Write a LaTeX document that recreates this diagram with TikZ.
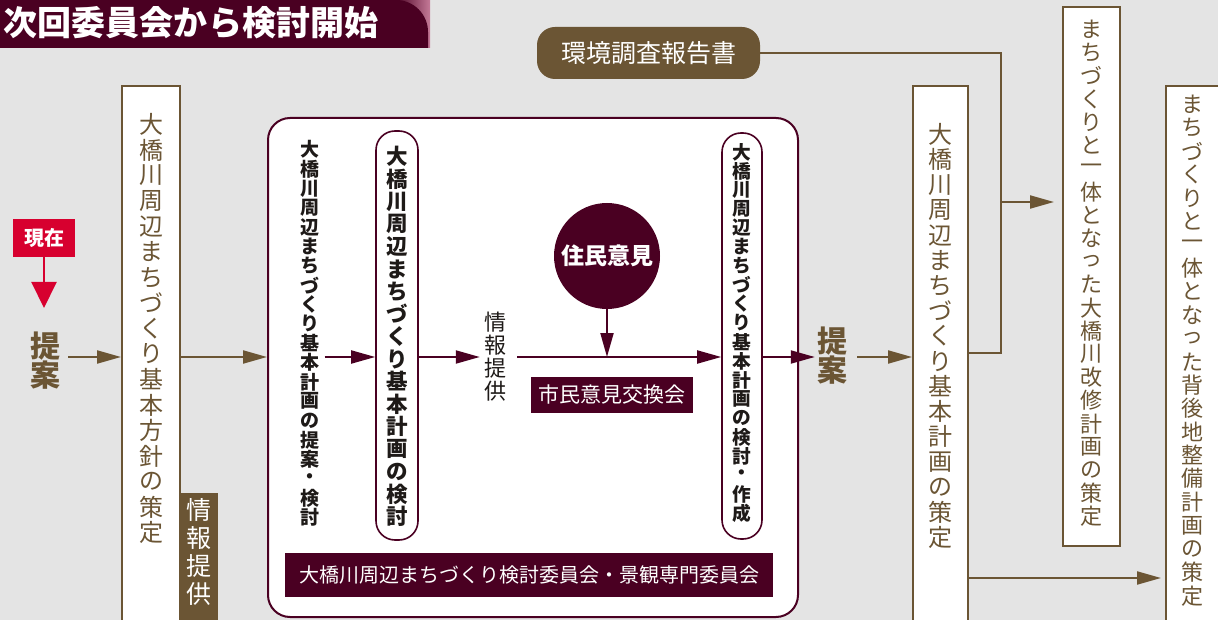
\documentclass[tikz,border=0pt]{standalone}
\usepackage{fontspec}
\setmainfont{Noto Sans CJK JP}
\usetikzlibrary{arrows.meta}
\definecolor{bgc}{HTML}{E4E4E4}
\definecolor{brn}{HTML}{6B5534}
\definecolor{mar}{HTML}{4A0022}
\definecolor{redc}{HTML}{D7002F}
\definecolor{pinkc}{HTML}{C57A98}
\definecolor{ink}{HTML}{1E1A18}
\makeatletter
\newcommand\vtxt[2]{\vbox{\offinterlineskip\@tfor\vt@c:=#2\do{\hbox to 1em{\hss\vbox to #1{\vss\hbox{\vt@c}\vss}\hss}}}}
\makeatother
\newcommand\fs[1]{\fontsize{#1pt}{#1pt}\selectfont}
\begin{document}
\begin{tikzpicture}[x=1pt,y=-1pt,
  wbox/.style={draw=brn,line width=2pt,fill=white,inner sep=0},
  btxt/.style={inner sep=0,text=brn},
  ktxt/.style={inner sep=0,text=ink},
  wtxt/.style={inner sep=0,text=white},
  pill/.style={draw=mar,line width=1.6pt,fill=white,rounded corners=19pt,inner sep=0},
  mbox/.style={fill=mar,text=white,inner sep=0},
  teian/.style={inner sep=0,text=brn,font=\bfseries\fs{30}},
  barrow/.style={draw=brn,line width=2pt,-{Triangle[length=24pt,width=13pt]}},
  marrow/.style={draw=mar,line width=2pt,-{Triangle[length=24pt,width=13pt]}},
  bline/.style={draw=brn,line width=2pt}]
\clip (0,0) rectangle (1218,620);
\fill[bgc] (0,0) rectangle (1218,620);
% title
\shade[left color=mar,right color=pinkc] (395,0) rectangle (430,48);
\fill[mar] (0,48) -- (0,0) [rounded corners=32pt] -- (428,0) [sharp corners] -- (428,48) -- cycle;
\node[wtxt,font=\bfseries\fs{34}] (title) at (191,23) {次回委員会から検討開始};
% now
\node[fill=redc,text=white,inner sep=0,minimum width=62pt,minimum height=38pt,font=\bfseries\fs{20}] (now) at (44,238) {現在};
\coordinate (nowtip) at (44,308);
\draw[draw=redc,line width=2pt,-{Triangle[length=26pt,width=25pt]}] (now) -- (nowtip);
% left proposal
\node[teian] (t1) at (45,361) {\vtxt{29pt}{提案}};
% box1
\node[wbox,minimum width=58pt,minimum height=600pt,anchor=north] (b1) at (151,85) {};
\node[btxt,font=\fs{24}] (b1t) at (151,328.5) {\vtxt{25.5pt}{大橋川周辺まちづくり基本方針の策定}};
\node[fill=brn,inner sep=0,minimum width=39pt,minimum height=150pt,anchor=north] (info1) at (198.5,493) {};
\node[wtxt,font=\fs{25},anchor=north] (info1t) at (198.5,496) {\vtxt{28pt}{情報提供}};
% big box
\node[draw=mar,line width=2pt,fill=white,rounded corners=22pt,inner sep=0,minimum width=530pt,minimum height=499pt] (big) at (533,367.5) {};
\node[ktxt,font=\bfseries\fs{19}] (c1) at (310,333.5) {\vtxt{19.35pt}{大橋川周辺まちづくり基本計画の提案・検討}};
\node[pill,minimum width=42pt,minimum height=409pt] (p2) at (397,335.5) {};
\node[ktxt,font=\bfseries\fs{21.5}] (p2t) at (397,336.5) {\vtxt{22.5pt}{大橋川周辺まちづくり基本計画の検討}};
\node[ktxt,font=\fs{22}] (info2) at (495,357) {\vtxt{23pt}{情報提供}};
\node[circle,fill=mar,text=white,inner sep=0,minimum size=106pt,font=\bfseries\fs{23}] (jumin) at (607,256) {住民意見};
\node[mbox,minimum width=162pt,minimum height=36pt,font=\fs{21}] (shimin) at (612,395) {市民意見交換会};
\node[pill,minimum width=40pt,minimum height=406pt] (p3) at (742,336) {};
\node[ktxt,font=\bfseries\fs{18.7}] (p3t) at (742,332.5) {\vtxt{19pt}{大橋川周辺まちづくり基本計画の検討・作成}};
\node[mbox,minimum width=488pt,minimum height=44pt,font=\fs{20}] (bar) at (529,575) {大橋川周辺まちづくり検討委員会・景観専門委員会};
% right proposal
\node[teian] (t2) at (832,356) {\vtxt{29pt}{提案}};
\node[wbox,minimum width=55pt,minimum height=600pt,anchor=north] (b5) at (940.5,85) {};
\node[btxt,font=\fs{24}] (b5t) at (940.5,336) {\vtxt{25.2pt}{大橋川周辺まちづくり基本計画の策定}};
\node[fill=brn,text=white,inner sep=0,rounded corners=18pt,minimum width=223pt,minimum height=52pt,font=\fs{25}] (kankyo) at (648.5,53) {環境調査報告書};
\node[wbox,minimum width=57pt,minimum height=539pt] (b6) at (1091.5,276.5) {};
\node[btxt,font=\fs{22}] (b6t) at (1091.5,273) {\vtxt{23.2pt}{まちづくりと一体となった大橋川改修計画の策定}};
\node[wbox,minimum width=70pt,minimum height=600pt,anchor=north west] (b7) at (1165,85) {};
\node[btxt,font=\fs{22}] (b7t) at (1192,350) {\vtxt{23.4pt}{まちづくりと一体となった背後地整備計画の策定}};
% connectors
\coordinate (ay) at (0,357);
\draw[barrow] ([xshift=8pt]t1.east |- ay) -- (b1.west |- ay);
\draw[barrow] (b1.east |- ay) -- (big.west |- ay);
\draw[marrow] ([xshift=5pt]c1.east |- ay) -- (p2.west |- ay);
\draw[marrow] (p2.east |- ay) -- ([xshift=-4pt]info2.west |- ay);
\draw[marrow] ([xshift=11pt]info2.east |- ay) -- (p3.west |- ay);
\draw[marrow] (jumin) -- (jumin |- ay);
\draw[marrow] (p3.east |- ay) -- ([xshift=-2pt]t2.west |- ay);
\draw[barrow] ([xshift=10pt]t2.east |- ay) -- (b5.west |- ay);
\coordinate (jt) at (1001,53);
\coordinate (jb) at (1001,353);
\coordinate (jm) at (1001,202);
\coordinate (lo) at (0,578);
\draw[bline] (kankyo.east) -- (jt) -- (jb) -- (b5.east |- jb);
\draw[barrow,shorten >=8pt] (jm) -- (b6.west |- jm);
\draw[barrow,shorten >=4pt] (b5.east |- lo) -- (b7.west |- lo);
\end{tikzpicture}
\end{document}
